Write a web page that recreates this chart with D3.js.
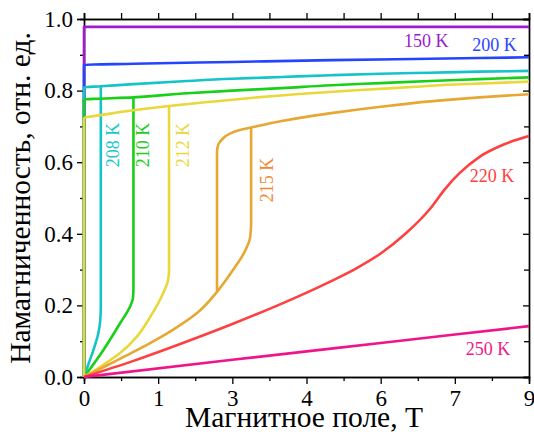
<!DOCTYPE html>
<html>
<head>
<meta charset="utf-8">
<script src="https://cdn.jsdelivr.net/npm/d3@7"></script>
<style>
body { margin: 0; background: #fff; }
svg text { font-family: 'Liberation Serif', 'Times New Roman', Times, 'DejaVu Serif', serif !important; }
</style>
</head>
<body>
<script>
// magnetization curves, field in T, magnetization in rel. units
var field150 = [0, 0, 9];
var mag150   = [0, 0.978, 0.978];

var field200 = [0, 0, 1, 3, 5, 7, 9];
var mag200   = [0, 0.872, 0.875, 0.88, 0.885, 0.889, 0.893];

var field208Up = [0, 0.1, 0.19, 0.29, 0.33, 0.34, 0.34];
var mag208Up   = [0, 0.04, 0.075, 0.122, 0.16, 0.2, 0.812];
var field208 = [0, 0, 0.34, 1, 2, 3, 4, 5, 6, 7, 8, 9];
var mag208   = [0, 0.809, 0.812, 0.818, 0.826, 0.833, 0.838, 0.843, 0.847, 0.85, 0.853, 0.855];

var field210Up = [0, 0.39, 0.73, 0.93, 0.99, 1.0, 1.0];
var mag210Up   = [0, 0.075, 0.15, 0.196, 0.22, 0.25, 0.781];
var field210 = [0, 0, 1, 2, 3, 4, 5, 6, 7, 8, 9];
var mag210   = [0, 0.775, 0.781, 0.792, 0.8, 0.807, 0.815, 0.821, 0.827, 0.832, 0.837];

var field212Up = [0, 0.4, 0.73, 1.07, 1.34, 1.6, 1.7, 1.72, 1.72];
var mag212Up   = [0, 0.035, 0.067, 0.113, 0.168, 0.234, 0.27, 0.3, 0.757];
var field212 = [0, 0, 0.5, 1, 1.72, 2.5, 3.5, 4.5, 5.5, 6.5, 7.5, 9];
var mag212   = [0, 0.722, 0.735, 0.745, 0.757, 0.768, 0.781, 0.792, 0.801, 0.809, 0.817, 0.825];

var field215Up = [0, 0.5, 1.07, 1.74, 2.28, 2.69, 3.02, 3.25, 3.36, 3.38, 3.38];
var mag215Up   = [0, 0.035, 0.075, 0.127, 0.178, 0.238, 0.3, 0.35, 0.39, 0.43, 0.697];
var field215 = [2.69, 2.69, 2.72, 2.8, 2.95, 3.15, 3.38, 4, 5, 6, 7, 8, 9];
var mag215   = [0.238, 0.629, 0.65, 0.665, 0.68, 0.69, 0.697, 0.715, 0.737, 0.755, 0.77, 0.781, 0.79];

var field220 = [0, 1, 2, 3, 4, 5, 5.5, 6, 6.5, 7, 7.3, 7.6, 8, 8.5, 9];
var mag220   = [0, 0.045, 0.095, 0.148, 0.205, 0.268, 0.303, 0.345, 0.4, 0.47, 0.525, 0.57, 0.615, 0.65, 0.673];

var field250 = [0, 3, 6, 9];
var mag250   = [0, 0.048, 0.095, 0.142];

var xTickValues = [0, 1.5, 3, 4.5, 6, 7.5, 9];
var xTickLabels = ["0", "1", "3", "4", "6", "7", "9"];
var yTickValues = [0, 0.2, 0.4, 0.6, 0.8, 1.0];

var WIDTH = 534;
var HEIGHT = 441;
var MARGIN = {left: 84, top: 19, right: 5, bottom: 64};
var INNERWIDTH = WIDTH - MARGIN.left - MARGIN.right;
var INNERHEIGHT = HEIGHT - MARGIN.top - MARGIN.bottom;
var FONT = "'Liberation Serif', 'Times New Roman', serif";

var translate = function (x, y) {
    return "translate(" + x + "," + y + ")";
};

var xScale = d3.scaleLinear().domain([0, 9]).range([0, INNERWIDTH]);
var yScale = d3.scaleLinear().domain([0, 1]).range([INNERHEIGHT, 0]);

var line = d3.line()
    .x(function (d) { return xScale(d[0]); })
    .y(function (d) { return yScale(d[1]); })
    .curve(d3.curveMonotoneY);

var lineX = d3.line()
    .x(function (d) { return xScale(d[0]); })
    .y(function (d) { return yScale(d[1]); })
    .curve(d3.curveMonotoneX);

var zip = function (xs, ys) {
    return xs.map(function (x, i) { return [x, ys[i]]; });
};

// curve list in drawing order
var curves = [
    {pts: zip(field150, mag150), color: "#a01ad0", gen: line},
    {pts: zip(field200, mag200), color: "#2445ff", gen: line},
    {pts: zip(field208Up, mag208Up), color: "#14c4c8", gen: line},
    {pts: zip(field208, mag208), color: "#14c4c8", gen: line},
    {pts: zip(field210Up, mag210Up), color: "#18d018", gen: line},
    {pts: zip(field210, mag210), color: "#18d018", gen: line},
    {pts: zip(field212Up, mag212Up), color: "#e8d83c", gen: line},
    {pts: zip(field212, mag212), color: "#e8d83c", gen: line},
    {pts: zip(field215Up, mag215Up), color: "#e6a832", gen: line},
    {pts: zip(field215, mag215), color: "#e6a832", gen: line},
    {pts: zip(field220, mag220), color: "#ff4040", gen: lineX},
    {pts: zip(field250, mag250), color: "#f0148a", gen: lineX}
];

var labels = [
    {text: "150 K", h: 6.92, m: 0.94, color: "#9a1ad0", rot: false},
    {text: "200 K", h: 8.3, m: 0.927, color: "#2a45ff", rot: false},
    {text: "208 K", h: 0.59, m: 0.648, color: "#18c8cc", rot: true},
    {text: "210 K", h: 1.19, m: 0.648, color: "#22cc22", rot: true},
    {text: "212 K", h: 2.0, m: 0.648, color: "#e8d840", rot: true},
    {text: "215 K", h: 3.7, m: 0.55, color: "#f08a30", rot: true},
    {text: "220 K", h: 8.25, m: 0.561, color: "#ff4040", rot: false},
    {text: "250 K", h: 8.17, m: 0.078, color: "#f0188a", rot: false}
];

var createChart = function () {
    var svg = d3.select("body").append("svg")
        .attr("width", WIDTH)
        .attr("height", HEIGHT)
        .style("font-family", FONT);

    var g = svg.append("g").attr("transform", translate(MARGIN.left, MARGIN.top));

    var xMinor = d3.range(0.75, 9, 1.5);
    var yMinor = d3.range(0.1, 1, 0.2);

    var axisStyle = function (sel) {
        sel.attr("font-family", null);
        sel.select(".domain").attr("stroke", "#000").attr("stroke-width", 1.4);
        sel.selectAll(".tick line").attr("stroke", "#000").attr("stroke-width", 1.3);
        sel.selectAll("text")
            .style("font-family", FONT)
            .attr("font-size", 23)
            .attr("fill", "#000");
    };

    // bottom
    g.append("g").attr("transform", translate(0, INNERHEIGHT))
        .call(d3.axisBottom(xScale).tickValues(xTickValues).tickSize(7).tickPadding(6)
            .tickFormat(function (d, i) { return xTickLabels[i]; }))
        .call(axisStyle);
    g.append("g").attr("transform", translate(0, INNERHEIGHT))
        .call(d3.axisBottom(xScale).tickValues(xMinor).tickSize(4).tickFormat(""))
        .call(axisStyle);

    // top
    g.append("g")
        .call(d3.axisTop(xScale).tickValues(xTickValues).tickSize(6).tickFormat(""))
        .call(axisStyle);
    g.append("g")
        .call(d3.axisTop(xScale).tickValues(xMinor).tickSize(6).tickFormat(""))
        .call(axisStyle);

    // left
    g.append("g")
        .call(d3.axisLeft(yScale).tickValues(yTickValues).tickSize(7).tickPadding(4)
            .tickFormat(d3.format(".1f")))
        .call(axisStyle);
    g.append("g")
        .call(d3.axisLeft(yScale).tickValues(yMinor).tickSize(4).tickFormat(""))
        .call(axisStyle);

    // right (ticks inward)
    g.append("g").attr("transform", translate(INNERWIDTH, 0))
        .call(d3.axisLeft(yScale).tickValues(yTickValues).tickSize(6).tickFormat(""))
        .call(axisStyle);
    g.append("g").attr("transform", translate(INNERWIDTH, 0))
        .call(d3.axisLeft(yScale).tickValues(yMinor).tickSize(5).tickFormat(""))
        .call(axisStyle);

    // curves drawn over the axes
    g.append("g").selectAll("path")
        .data(curves)
        .enter()
        .append("path")
        .attr("d", function (d) { return d.gen(d.pts); })
        .attr("fill", "none")
        .attr("stroke", function (d) { return d.color; })
        .attr("stroke-width", 2.6)
        .attr("stroke-linejoin", "round");

    // curve labels
    g.append("g").selectAll("text")
        .data(labels)
        .enter()
        .append("text")
        .attr("transform", function (d) {
            return translate(xScale(d.h), yScale(d.m)) + (d.rot ? " rotate(-90)" : "");
        })
        .attr("text-anchor", "middle")
        .attr("dy", "0.35em")
        .attr("font-size", 18)
        .attr("fill", function (d) { return d.color; })
        .text(function (d) { return d.text; });

    // axis titles
    svg.append("text")
        .attr("x", 304)
        .attr("y", 427)
        .attr("text-anchor", "middle")
        .attr("font-size", 29.5)
        .text("Магнитное поле, Т");

    svg.append("text")
        .attr("transform", translate(30, 198) + " rotate(-90)")
        .attr("text-anchor", "middle")
        .attr("font-size", 29.5)
        .text("Намагниченность, отн. ед.");
};

window.onload = createChart;
</script>
</body>
</html>
